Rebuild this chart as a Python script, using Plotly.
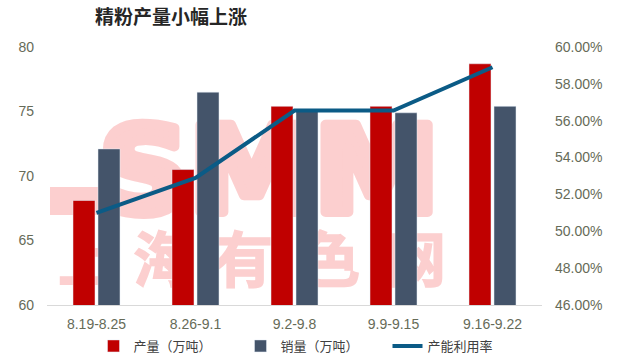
import base64
import plotly.graph_objects as go

categories = ["8.19-8.25", "8.26-9.1", "9.2-9.8", "9.9-9.15", "9.16-9.22"]
production = [68.1, 70.5, 75.4, 75.4, 78.7]
sales = [72.1, 76.5, 75.0, 74.9, 75.4]
utilization = [0.510, 0.529, 0.5655, 0.5655, 0.589]

left_ticks = [60, 65, 70, 75, 80]
right_ticks = [0.46, 0.48, 0.50, 0.52, 0.54, 0.56, 0.58, 0.60]

title_text = "精粉产量小幅上涨"
names = ["产量（万吨）", "销量（万吨）", "产能利用率"]

RED = "#C00000"
SLATE = "#44546A"
LINE = "#0B5B86"
TICK = "#666B58"
WM = "#FCCFCF"
FONT = "Liberation Sans, Noto Sans CJK SC, sans-serif"

# watermark (background decoration) as an SVG image
wm_chars = "上海有色网"
wm_centers = [48, 123, 203, 290, 376]
char_svg = "".join(
    f"<text x='{cx}' y='140' text-anchor='middle' dominant-baseline='central' "
    f"font-family='Noto Sans CJK SC' font-weight='bold' font-size='60' fill='{WM}' "
    f"stroke='{WM}' stroke-width='1.5'>{ch}</text>"
    for ch, cx in zip(wm_chars, wm_centers)
)
svg = f"""<svg xmlns='http://www.w3.org/2000/svg' width='420' height='180' viewBox='0 0 420 180'>
<rect x='10' y='72' width='50' height='28' fill='{WM}'/>
<text x='59' y='97' font-family='DejaVu Sans' font-weight='bold' font-size='120' fill='{WM}'
 stroke='{WM}' stroke-width='10' stroke-linejoin='round'
 textLength='340' lengthAdjust='spacingAndGlyphs'>SMM</text>
{char_svg}
</svg>"""
svg_uri = "data:image/svg+xml;base64," + base64.b64encode(svg.encode("utf-8")).decode()

fig = go.Figure()
fig.add_trace(go.Bar(x=categories, y=production, name=names[0], marker_color=RED))
fig.add_trace(go.Bar(x=categories, y=sales, name=names[1], marker_color=SLATE))
fig.add_trace(go.Scatter(x=categories, y=utilization, name=names[2], yaxis="y2",
                         mode="lines", line=dict(color=LINE, width=4)))

L, R, T, B = 47, 75, 47, 55
pw, ph = 617 - L - R, 360 - T - B

fig.update_layout(
    width=617, height=360,
    margin=dict(l=L, r=R, t=T, b=B, autoexpand=False),
    paper_bgcolor="white", plot_bgcolor="rgba(0,0,0,0)",
    font=dict(family=FONT, size=13, color=TICK),
    barmode="group", bargap=0.495, bargroupgap=0.12,
    showlegend=True,
    hovermode=False,
    title=dict(text=f"<b>{title_text}</b>", x=171 / 617, xanchor="center", xref="container",
               y=1 - 17 / 360, yanchor="middle", yref="container",
               font=dict(size=19, color="#262626", family="Noto Sans CJK SC, sans-serif")),
    xaxis=dict(showline=True, linecolor="#D9D9D9", linewidth=1, ticks="", showgrid=False,
               zeroline=False, tickfont=dict(size=14, color=TICK), ticklabelstandoff=6),
    yaxis=dict(range=[60, 80], tickvals=left_ticks, showgrid=False, zeroline=False,
               showline=False, ticks="", tickfont=dict(size=14, color=TICK), ticklabelstandoff=12),
    yaxis2=dict(range=[0.46, 0.60], tickvals=right_ticks, tickformat=".2%", overlaying="y",
                side="right", showgrid=False, zeroline=False, showline=False, ticks="",
                tickfont=dict(size=14, color=TICK), ticklabelstandoff=12),
    legend=dict(orientation="h", x=(314 - L) / pw, xanchor="center", y=(305 - 346) / ph,
                yanchor="middle", font=dict(size=13, color="#404040"),
                entrywidth=102, entrywidthmode="pixels", bgcolor="rgba(0,0,0,0)"),
    images=[dict(source=svg_uri, xref="paper", yref="paper",
                 x=(40 - L) / pw, y=(305 - 115) / ph, sizex=420 / pw, sizey=180 / ph,
                 xanchor="left", yanchor="top", sizing="stretch", layer="below")],
)

fig.write_html("out.html", config={"displayModeBar": False},
               post_script="document.body.style.margin='0';document.body.style.overflow='hidden';")
